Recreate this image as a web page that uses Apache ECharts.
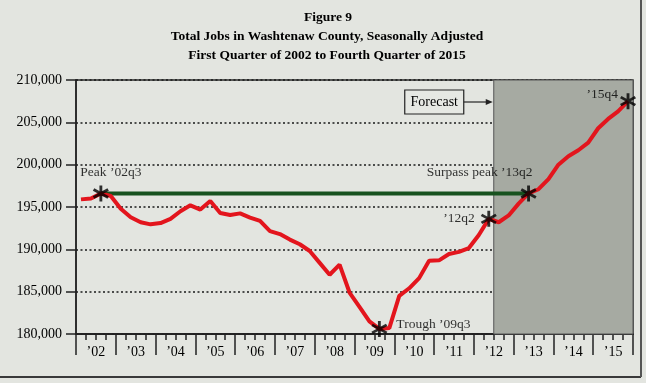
<!DOCTYPE html>
<html><head><meta charset="utf-8">
<script src="https://cdn.jsdelivr.net/npm/echarts@6/dist/echarts.min.js"></script>
<style>html,body{margin:0;padding:0;background:#e3e5e0;}#c{width:646px;height:383px;}</style>
</head><body><div id="c"></div>
<script>
// ---- data ----
const titleLines = ['Figure 9', 'Total Jobs in Washtenaw County, Seasonally Adjusted', 'First Quarter of 2002 to Fourth Quarter of 2015'];
const yearLabels = ['\u201902','\u201903','\u201904','\u201905','\u201906','\u201907','\u201908','\u201909','\u201910','\u201911','\u201912','\u201913','\u201914','\u201915'];
const jobs = [
  195900, 196000, 196600, 196300,
  194800, 193800, 193200, 192950,
  193100, 193600, 194500, 195200,
  194700, 195700, 194300, 194050,
  194250, 193750, 193350, 192150,
  191800, 191150, 190600, 189800,
  188400, 187000, 188200, 184900,
  183200, 181500, 180600, 180700,
  184500, 185400, 186600, 188650,
  188700, 189450, 189700, 190150,
  191700, 193600, 193200, 194000,
  195400, 196600, 197100, 198300,
  200000, 201000, 201700, 202600,
  204300, 205400, 206300, 207500
];
const markerIndex = [2, 30, 41, 45, 55];
const markerText = ['Peak \u201902q3', 'Trough \u201909q3', '\u201912q2', 'Surpass peak \u201913q2', '\u201915q4'];
const forecastStart = 42; // first forecast quarter (2012q3)
const peakIndex = 2, surpassIndex = 45;
const yTicks = {min: 180000, max: 210000, step: 5000};

// ---- chart ----
const nQ = yearLabels.length * 4;
const serif = '"Liberation Serif", "DejaVu Serif", serif';
const astPath = 'path://M8.3,0 L11.7,0 L11.7,20 L8.3,20 Z M0.49,6.47 L2.19,3.53 L19.51,13.53 L17.81,16.47 Z M2.19,16.47 L0.49,13.53 L17.81,3.53 L19.51,6.47 Z';
const labelPos = [
  {position: 'top', offset: [10, -1]},
  {position: 'right', distance: 9, offset: [0, -4]},
  {position: 'left', distance: 6},
  {position: 'top', align: 'right', offset: [4, -1]},
  {position: 'left', distance: 2, offset: [0, -7]}
];
const chart = echarts.init(document.getElementById('c'), null, {renderer: 'canvas'});
const lineData = jobs.map((v, i) => [i + 0.5, v]);
const option = {
  backgroundColor: '#e3e5e0',
  animation: false,
  grid: {left: 76, right: 13, top: 80, bottom: 49, show: true, borderColor: '#2a2a2a', borderWidth: 1.5, backgroundColor: 'transparent'},
  xAxis: [
    {type: 'value', min: 0, max: nQ, interval: 1, position: 'bottom',
     axisLine: {show: true, onZero: false, lineStyle: {color: '#222', width: 1.5}},
     axisTick: {show: true, length: 6, lineStyle: {color: '#222', width: 1.5}},
     axisLabel: {show: false}, splitLine: {show: false}},
    {type: 'category', data: yearLabels, position: 'bottom', boundaryGap: true,
     axisLine: {show: true, onZero: false, lineStyle: {color: '#222', width: 1.5}},
     axisTick: {show: true, length: 21, lineStyle: {color: '#222', width: 1.5}},
     axisLabel: {margin: 11, color: '#000', fontFamily: serif, fontSize: 14},
     splitLine: {show: false}}
  ],
  yAxis: {type: 'value', min: yTicks.min, max: yTicks.max, interval: yTicks.step,
    axisLine: {show: true, lineStyle: {color: '#222', width: 1.5}},
    axisTick: {show: true, length: 10, lineStyle: {color: '#222', width: 1.5}},
    axisLabel: {margin: 14, color: '#000', fontFamily: serif, fontSize: 14,
      formatter: v => v.toLocaleString('en-US')},
    splitLine: {show: true, lineStyle: {color: '#1a1a1a', width: 1.6, type: [2, 2.5]}}},
  series: [
    {type: 'line', name: 'shade', data: lineData, z: -1, showSymbol: false, silent: true,
     lineStyle: {opacity: 0},
     markArea: {silent: true, itemStyle: {color: '#a6aaa2', borderColor: '#555', borderWidth: 1},
       data: [[{xAxis: forecastStart}, {xAxis: nQ}]]}},
    {type: 'line', name: 'peak', z: 3, showSymbol: false, silent: true,
     data: [[peakIndex + 0.5, jobs[peakIndex]], [surpassIndex + 0.5, jobs[peakIndex]]],
     lineStyle: {color: '#17521f', width: 4}},
    {type: 'line', name: 'jobs', z: 4, data: lineData, showSymbol: false,
     lineStyle: {color: '#e3151d', width: 4}},
    {type: 'scatter', name: 'markers', z: 5, symbol: astPath, symbolSize: 16,
     itemStyle: {color: '#000'},
     data: markerIndex.map((idx, k) => ({value: [idx + 0.5, jobs[idx]],
       label: Object.assign({show: true, formatter: markerText[k], color: '#000', fontFamily: serif, fontSize: 13.5}, labelPos[k])}))}
  ],
  graphic: [
    {type: 'text', x: 328, y: 18, style: {text: titleLines[0], font: 'bold 13.5px ' + serif, fill: '#000', textAlign: 'center', textVerticalAlign: 'middle'}},
    {type: 'text', x: 327, y: 37, style: {text: titleLines[1], font: 'bold 13.5px ' + serif, fill: '#000', textAlign: 'center', textVerticalAlign: 'middle'}},
    {type: 'text', x: 327, y: 56, style: {text: titleLines[2], font: 'bold 13.5px ' + serif, fill: '#000', textAlign: 'center', textVerticalAlign: 'middle'}},
    {type: 'line', shape: {x1: 0, y1: 377, x2: 641, y2: 377}, style: {stroke: '#3a3a3a', lineWidth: 2}},
    {type: 'line', shape: {x1: 641, y1: 0, x2: 641, y2: 377}, style: {stroke: '#555', lineWidth: 2}}
  ]
};
chart.setOption(option);
// forecast label box with arrow pointing to the shaded region
const bx = chart.convertToPixel({xAxisIndex: 0}, forecastStart);
const by = 102;
chart.setOption({graphic: option.graphic.concat([
  {type: 'rect', shape: {x: bx - 89, y: by - 12, width: 59, height: 24}, style: {fill: '#e6e8e3', stroke: '#222', lineWidth: 1.2}},
  {type: 'text', x: bx - 59.5, y: by, style: {text: 'Forecast', font: '14px ' + serif, fill: '#000', textAlign: 'center', textVerticalAlign: 'middle'}},
  {type: 'line', shape: {x1: bx - 30, y1: by, x2: bx - 4, y2: by}, style: {stroke: '#222', lineWidth: 1.2}},
  {type: 'polygon', shape: {points: [[bx - 1, by], [bx - 8, by - 3], [bx - 8, by + 3]]}, style: {fill: '#222'}}
])});
</script></body></html>
